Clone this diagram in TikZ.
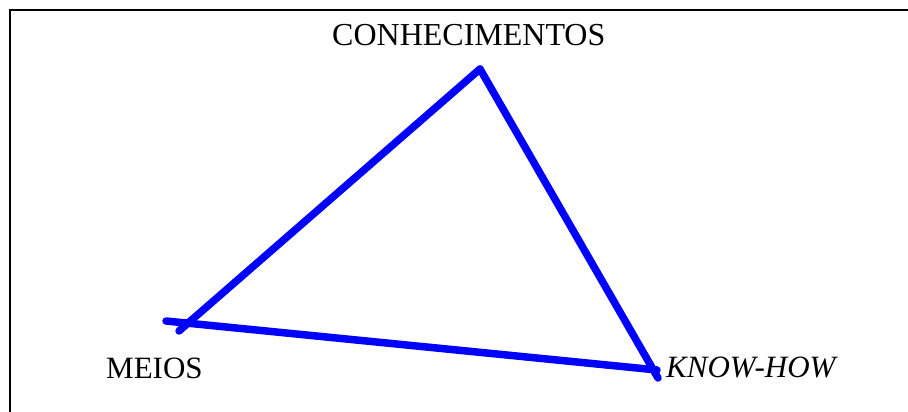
\documentclass[tikz,border=0pt]{standalone}
\usepackage{fontspec}
\setmainfont{Liberation Serif}
\begin{document}
\begin{tikzpicture}[x=1pt,y=1pt,
  edge/.style={draw={rgb,255:red,0;green,0;blue,255},line width=7.5pt,line cap=round},
  lbl/.style={inner sep=0pt,anchor=base west,font=\fontsize{31}{36}\selectfont},
  frame/.style={draw=black,line width=2pt}]
\useasboundingbox (0,0) rectangle (908,412);
% frame (top and left only)
\coordinate (fbl) at (9.5,-2);
\coordinate (ftl) at (9.5,401.5);
\coordinate (ftr) at (910,401.5);
\draw[frame] (fbl) -- (ftl) -- (ftr);
% labels
\node[lbl,font=\fontsize{32}{36}\selectfont] (conh) at (332,366) {CONHECIMENTOS};
\node[lbl] (meios) at (106,33) {MEIOS};
\node[lbl] (know) at (666,34) {\itshape KNOW-HOW};
% triangle corners
\coordinate (apex) at (480,343);
\coordinate (l1end) at (179,81);
\coordinate (l2start) at (166,91);
\coordinate (l2end) at (657,42);
\coordinate (l3end) at (658,34);
\draw[edge] (apex) -- (l1end);
\draw[edge] (l2start) -- (l2end);
\draw[edge] (apex) -- (l3end);
\end{tikzpicture}
\end{document}
